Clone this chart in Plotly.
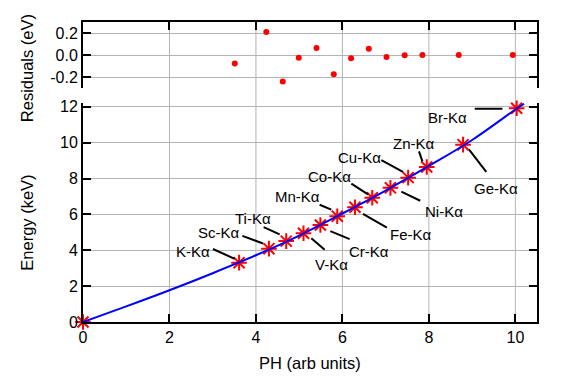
import plotly.graph_objects as go

# ---- data ----
ph = [0.0, 3.61, 4.30, 4.70, 5.10, 5.49, 5.88, 6.29, 6.69, 7.11, 7.52, 7.95, 8.79, 10.03]
energy = [0.0, 3.31, 4.09, 4.51, 4.95, 5.41, 5.90, 6.40, 6.93, 7.48, 8.05, 8.64, 9.89, 11.92]

fit_x = [0, 1, 2, 3, 4, 5, 6, 7, 8, 9, 10, 10.2]
fit_y = [0, 0.87, 1.77, 2.72, 3.72, 4.82, 6.05, 7.33, 8.70, 10.15, 11.85, 12.17]

res_x = [3.51, 4.24, 4.62, 4.99, 5.40, 5.80, 6.20, 6.61, 7.02, 7.44, 7.85, 8.69, 9.94]
res_y = [-0.077, 0.21, -0.242, -0.025, 0.063, -0.176, -0.03, 0.057, -0.018, -0.003, 0.0, 0.0, 0.0]

labels = ["K-Kα", "Sc-Kα", "Ti-Kα", "V-Kα", "Cr-Kα", "Mn-Kα", "Fe-Kα",
          "Co-Kα", "Ni-Kα", "Cu-Kα", "Zn-Kα", "Ge-Kα", "Br-Kα"]
label_x = [2.54, 3.14, 3.93, 5.74, 6.61, 4.97, 7.59, 5.70, 8.34, 6.40, 7.65, 9.56, 8.44]
label_y = [3.94, 4.98, 5.75, 3.19, 3.94, 7.00, 4.89, 8.10, 6.17, 9.20, 9.98, 7.45, 11.43]
seg_x0 = [3.006, 3.686, 4.178, 5.589, 5.720, 5.473, 6.474, 6.206, 7.362, 6.90, 7.77, 8.925, 9.06]
seg_y0 = [4.07, 4.80, 5.29, 4.03, 5.07, 6.54, 6.03, 7.72, 7.27, 9.02, 9.51, 9.62, 11.89]
seg_x1 = [3.508, 4.162, 4.548, 5.281, 6.167, 5.743, 7.029, 6.590, 7.80, 7.40, 7.85, 9.327, 9.70]
seg_y1 = [3.52, 4.38, 4.89, 4.67, 4.62, 6.27, 5.26, 7.12, 6.76, 8.37, 8.96, 8.37, 11.89]

x_ticks = [0, 2, 4, 6, 8, 10]
y_ticks = [0, 2, 4, 6, 8, 10, 12]
r_ticks = [-0.2, 0.0, 0.2]
r_ticktext = ["-0.2", "0.0", "0.2"]

FONT = "Liberation Sans, Arial, sans-serif"
GRID = "#b4b4b4"

fig = go.Figure()

fig.add_trace(go.Scatter(
    x=ph, y=energy, mode="markers", xaxis="x", yaxis="y",
    marker=dict(symbol="asterisk-open", size=13, color="red",
                line=dict(color="red", width=2)),
    cliponaxis=False, showlegend=False))

fig.add_trace(go.Scatter(
    x=fit_x, y=fit_y, mode="lines", xaxis="x", yaxis="y",
    line=dict(color="blue", width=2, shape="spline"),
    cliponaxis=False, showlegend=False))

fig.add_trace(go.Scatter(
    x=res_x, y=res_y, mode="markers", xaxis="x2", yaxis="y2",
    marker=dict(symbol="circle", size=6, color="red"),
    showlegend=False))

shapes = []
for gx in x_ticks[1:]:
    shapes.append(dict(type="line", xref="x", yref="paper", x0=gx, x1=gx,
                       y0=0, y1=1, line=dict(color=GRID, width=1), layer="below"))
for a, b, c, d in zip(seg_x0, seg_y0, seg_x1, seg_y1):
    shapes.append(dict(type="line", xref="x", yref="y", x0=a, y0=b, x1=c, y1=d,
                       line=dict(color="black", width=2)))

annotations = []
for t, lx, ly in zip(labels, label_x, label_y):
    annotations.append(dict(text=t, x=lx, y=ly, xref="x", yref="y",
                            showarrow=False, xanchor="center", yanchor="middle",
                            font=dict(family=FONT, size=15, color="black")))
annotations.append(dict(text="Energy (keV)", x=-0.124, y=0.33, xref="paper", yref="paper",
                        textangle=-90, showarrow=False, xanchor="center", yanchor="middle",
                        font=dict(family=FONT, size=16.5, color="black")))
annotations.append(dict(text="Residuals (eV)", x=-0.124, y=0.845, xref="paper", yref="paper",
                        textangle=-90, showarrow=False, xanchor="center", yanchor="middle",
                        font=dict(family=FONT, size=16.5, color="black")))
annotations.append(dict(text="PH (arb units)", x=0.5, y=-0.135, xref="paper", yref="paper",
                        showarrow=False, xanchor="center", yanchor="middle",
                        font=dict(family=FONT, size=16.5, color="black")))

axis_common = dict(showline=True, linecolor="black", linewidth=2,
                   ticks="inside", ticklen=8, tickwidth=2, tickcolor="black",
                   zeroline=False, tickfont=dict(family=FONT, size=16, color="black"))

fig.update_layout(
    width=581, height=382,
    margin=dict(l=75, r=52, t=10, b=68),
    paper_bgcolor="white", plot_bgcolor="white",
    font=dict(family=FONT, size=15, color="black"),
    xaxis=dict(domain=[0, 1], anchor="y", range=[0, 10.5], tickvals=x_ticks,
               showgrid=False, mirror=False, **axis_common),
    yaxis=dict(domain=[0, 0.7305], anchor="x", range=[0, 12.22], tickvals=y_ticks,
               showgrid=True, gridcolor=GRID, gridwidth=1, mirror="ticks", **axis_common),
    xaxis2=dict(domain=[0, 1], anchor="y2", range=[0, 10.5], side="top",
                tickvals=x_ticks[1:], showticklabels=False, showgrid=False,
                mirror=False, **axis_common),
    yaxis2=dict(domain=[0.78, 1], anchor="x2", range=[-0.3, 0.3], tickvals=r_ticks,
                ticktext=r_ticktext, showgrid=True, gridcolor=GRID, gridwidth=1,
                mirror="ticks", **axis_common),
    shapes=shapes, annotations=annotations,
)

fig.write_html("out.html")
